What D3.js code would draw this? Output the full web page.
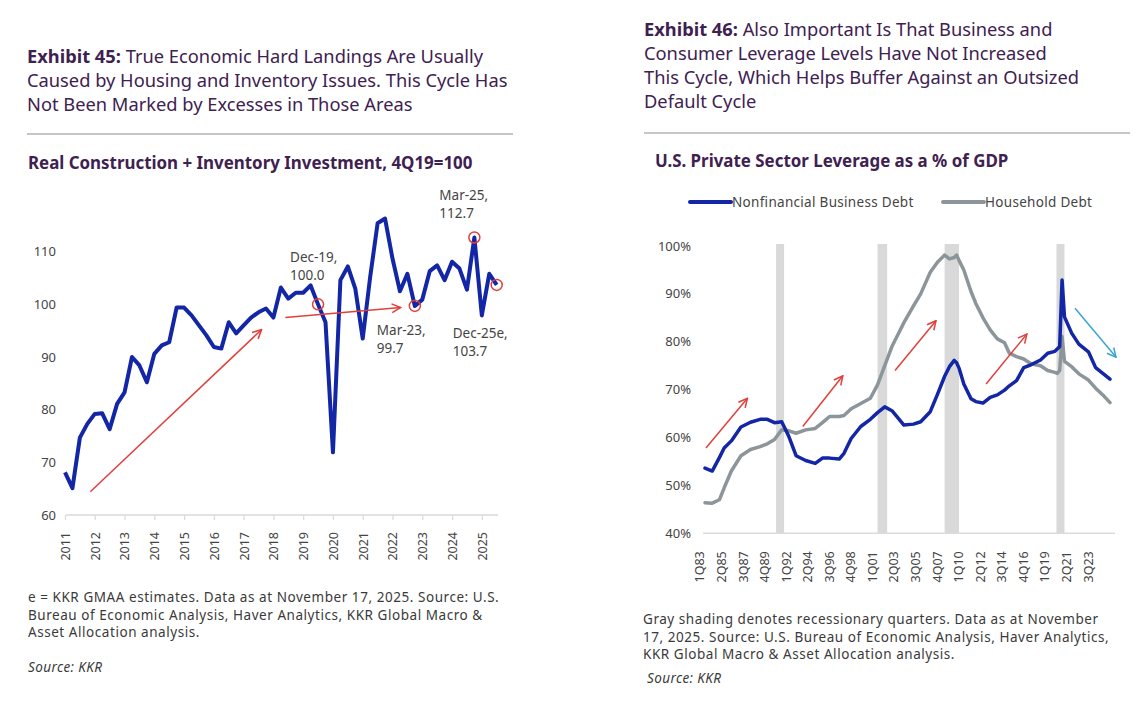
<!DOCTYPE html>
<html>
<head>
<meta charset="utf-8">
<script src="https://cdn.jsdelivr.net/npm/d3@7"></script>
<style>
  body { margin: 0; background: #fff; }
  svg { display: block; font-family: "Noto Sans", sans-serif; }
</style>
</head>
<body>
<div id="chart"></div>
<script>
// ---- Exhibit 45 data: real construction + inventory investment, 4Q19=100 (Jun-11 .. Dec-25e)
const constructionYears = d3.range(2011, 2026);
const constructionIndex = [68.1, 65.1, 74.7,
  77.3, 79.2, 79.3, 76.3,
  81.1, 83.3, 90.0, 88.4,
  85.2, 90.6, 92.2, 92.8,
  99.4, 99.4, 97.9, 96.0,
  94.1, 91.9, 91.6, 96.6,
  94.5, 96.0, 97.5, 98.5,
  99.2, 97.5, 103.2, 101.1,
  102.2, 102.2, 103.6, 100.0,
  96.6, 71.9, 104.6, 107.2,
  103.0, 93.5, 105.2, 115.4,
  116.3, 108.7, 102.5, 105.8,
  99.7, 100.9, 106.3, 107.4,
  104.6, 108.1, 106.8, 102.8,
  112.7, 97.9, 105.8, 103.7];
const constructionLabels = [];
constructionYears.forEach(y => ["Mar", "Jun", "Sep", "Dec"].forEach(m => constructionLabels.push(m + "-" + String(y).slice(2))));
constructionLabels.shift(); // series starts Jun-11
const constructionMarks = [
  { q: "Dec-19", text: ["Dec-19,", "100.0"] },
  { q: "Mar-23", text: ["Mar-23,", "99.7"] },
  { q: "Mar-25", text: ["Mar-25,", "112.7"] },
  { q: "Dec-25", text: ["Dec-25e,", "103.7"] }
];
const constructionTicks = [60, 70, 80, 90, 100, 110];

// ---- Exhibit 46 data: U.S. private sector leverage, % of GDP
const levQuarters = ["1Q83","4Q83","3Q84","1Q85","4Q85","4Q86","4Q87","4Q88","3Q89","2Q90",
  "1Q91","4Q91","3Q92","3Q93","3Q94","2Q95","1Q96","1Q97","3Q97","2Q98",
  "2Q99","2Q00","1Q01","4Q01","3Q02","1Q03","4Q03","4Q04","3Q05","3Q06",
  "2Q07","1Q08","3Q08","1Q09","2Q09","3Q09","1Q10","4Q10","2Q11","1Q12",
  "4Q12","3Q13","2Q14","4Q14","3Q15","2Q16","1Q17","1Q18","4Q18","3Q19",
  "4Q19","1Q20","2Q20","3Q20","2Q21","1Q22","1Q23","4Q23","3Q24","2Q25"];
const bizDebt = [53.6, 53.0, 55.8, 57.8, 59.3, 62.2, 63.2, 63.8, 63.8, 63.1,
  63.3, 60.2, 56.2, 55.2, 54.6, 55.7, 55.7, 55.5, 56.7, 59.8,
  62.3, 63.8, 65.2, 66.4, 65.6, 64.4, 62.6, 62.8, 63.3, 65.4,
  69.0, 72.8, 74.8, 76.1, 75.6, 74.5, 71.2, 68.1, 67.5, 67.2,
  68.4, 68.9, 69.9, 70.8, 71.9, 74.6, 75.2, 76.2, 77.6, 78.0,
  78.5, 79.0, 92.9, 85.2, 81.8, 79.5, 77.9, 74.6, 73.4, 72.2];
const hhDebt = [46.4, 46.3, 47.0, 49.5, 53.0, 56.2, 57.5, 58.1, 58.7, 59.6,
  61.6, 61.4, 60.9, 61.6, 61.9, 63.1, 64.4, 64.4, 64.6, 66.0,
  67.1, 68.2, 71.0, 75.0, 79.0, 81.0, 84.0, 87.5, 90.0, 94.5,
  96.6, 98.1, 97.3, 97.6, 98.1, 97.0, 95.0, 90.5, 88.0, 85.0,
  82.5, 80.6, 79.8, 77.6, 76.9, 76.4, 75.4, 75.0, 74.0, 73.6,
  73.4, 74.0, 81.1, 75.9, 74.8, 73.3, 72.0, 70.3, 68.9, 67.3];
const levTickLabels = ["1Q83","2Q85","3Q87","4Q89","1Q92","2Q94","3Q96","4Q98","1Q01","2Q03",
  "3Q05","4Q07","1Q10","2Q12","3Q14","4Q16","1Q19","2Q21","3Q23"];
const levYTicks = [40, 50, 60, 70, 80, 90, 100];
const recessions = [["3Q90", "1Q91"], ["1Q01", "4Q01"], ["1Q08", "2Q09"], ["1Q20", "2Q20"]];
const levSeries = [
  { name: "Nonfinancial Business Debt", values: bizDebt, color: "#1226a6" },
  { name: "Household Debt", values: hhDebt, color: "#8c959a" }
];

const W = 1147, H = 703;
const titleColor = "#3e2151", textColor = "#3a3a3a", red = "#e0403c";

const svg = d3.select("#chart").append("svg")
  .attr("width", W).attr("height", H);
svg.append("rect").attr("width", W).attr("height", H).attr("fill", "#fff");

const defs = svg.append("defs");
function arrowMarker(id, color) {
  defs.append("marker")
    .attr("id", id)
    .attr("viewBox", "0 0 10 10")
    .attr("refX", 9).attr("refY", 5)
    .attr("markerWidth", 11).attr("markerHeight", 11)
    .attr("markerUnits", "userSpaceOnUse")
    .attr("orient", "auto")
    .append("path")
    .attr("d", "M1,1 L9,5 L1,9")
    .attr("fill", "none")
    .attr("stroke", color)
    .attr("stroke-width", 1.4);
}
arrowMarker("arrowRed", red);
arrowMarker("arrowBlue", "#3aa5d2");

// headings shared by both panels
function heading(x, y0, bold, lines, sepY, sepX2, sub, subX, subY) {
  const t = svg.append("text").attr("fill", titleColor).style("font-size", "18.3px");
  lines.forEach((ln, i) => {
    const row = t.append("tspan").attr("x", x).attr("y", y0 + i * 24);
    if (i === 0) row.append("tspan").attr("font-weight", "bold").text(bold + " ");
    row.append("tspan").text(ln);
  });
  svg.append("line").attr("x1", x).attr("x2", sepX2).attr("y1", sepY).attr("y2", sepY)
    .attr("stroke", "#b3b3b3").attr("stroke-width", 1.5);
  svg.append("text").attr("x", subX).attr("y", subY)
    .attr("fill", titleColor).attr("font-weight", "bold").style("font-size", "16.9px")
    .text(sub);
}

function footnote(x, y0, lines, srcX, srcY) {
  const t = svg.append("text").attr("fill", textColor)
    .style("font-size", "13.5px").style("letter-spacing", "0.55px");
  lines.forEach((ln, i) => t.append("tspan").attr("x", x).attr("y", y0 + i * 17.5).text(ln));
  svg.append("text").attr("x", srcX).attr("y", srcY).attr("fill", textColor)
    .style("font-size", "13.5px").style("font-style", "italic").style("letter-spacing", "0.4px")
    .text("Source: KKR");
}

// ================= Exhibit 45 =================
heading(27, 63, "Exhibit 45:", [
  "True Economic Hard Landings Are Usually",
  "Caused by Housing and Inventory Issues. This Cycle Has",
  "Not Been Marked by Excesses in Those Areas"
], 134, 513, "Real Construction + Inventory Investment, 4Q19=100", 28, 169);

const x1 = d3.scaleLinear().domain([0, constructionIndex.length - 1]).range([65, 496.7]);
const y1 = d3.scaleLinear().domain([60, 110]).range([515, 251.7]);
const g1 = svg.append("g");

const xAxis1 = d3.axisBottom(x1)
  .tickValues(constructionYears.map(y => constructionLabels.indexOf("Jun-" + String(y).slice(2))))
  .tickFormat(i => "20" + constructionLabels[i].slice(4))
  .tickSize(5).tickSizeOuter(0);
const gx1 = g1.append("g").attr("transform", `translate(0,${y1(60)})`).call(xAxis1);
gx1.select(".domain").attr("stroke", "#d9d9d9").attr("stroke-width", 1.5)
  .attr("d", `M${x1(0) + 1},0H${x1(constructionIndex.length - 1) + 1.5}`);
gx1.selectAll(".tick line").attr("stroke", "#d9d9d9").attr("stroke-width", 1.2);
gx1.selectAll(".tick text")
  .attr("transform", "rotate(-90)")
  .attr("text-anchor", "end")
  .attr("x", -17).attr("y", 0).attr("dy", "0.35em")
  .attr("fill", "#444").style("font-size", "12.5px").style("font-family", "Noto Sans, sans-serif");

g1.selectAll(".ytick").data(constructionTicks).join("text")
  .attr("x", 56).attr("y", d => y1(d)).attr("dy", "0.35em")
  .attr("text-anchor", "end").attr("fill", "#444").style("font-size", "13px")
  .text(d => d);

const line1 = d3.line().x((d, i) => x1(i)).y(d => y1(d));
g1.append("path").datum(constructionIndex)
  .attr("d", line1).attr("fill", "none")
  .attr("stroke", "#1226a6").attr("stroke-width", 4).attr("stroke-linejoin", "round");

// trend arrows (data coordinates: quarter index, index value)
[[3.4, 64.4, 26.4, 95.2], [29.6, 97.5, 45.1, 99.4]].forEach(a => {
  g1.append("line")
    .attr("x1", x1(a[0])).attr("y1", y1(a[1])).attr("x2", x1(a[2])).attr("y2", y1(a[3]))
    .attr("stroke", red).attr("stroke-width", 1.5).attr("marker-end", "url(#arrowRed)");
});

const markOffsets = { "Dec-19": [-28, -42], "Mar-23": [-38, 29], "Mar-25": [-35, -37], "Dec-25": [-44, 53] };
constructionMarks.forEach(m => {
  const i = constructionLabels.indexOf(m.q);
  const cx = x1(i), cy = y1(constructionIndex[i]);
  g1.append("circle").attr("cx", cx).attr("cy", cy).attr("r", 5.5)
    .attr("fill", "none").attr("stroke", red).attr("stroke-width", 1.5);
  const off = markOffsets[m.q];
  const t = g1.append("text").attr("fill", "#444").style("font-size", "13.5px");
  m.text.forEach((s, k) => t.append("tspan").attr("x", cx + off[0]).attr("y", cy + off[1] + k * 18).text(s));
});

footnote(28, 602, [
  "e = KKR GMAA estimates. Data as at November 17, 2025. Source: U.S.",
  "Bureau of Economic Analysis, Haver Analytics, KKR Global Macro &",
  "Asset Allocation analysis."
], 28, 672);

// ================= Exhibit 46 =================
heading(644, 36, "Exhibit 46:", [
  "Also Important Is That Business and",
  "Consumer Leverage Levels Have Not Increased",
  "This Cycle, Which Helps Buffer Against an Outsized",
  "Default Cycle"
], 133, 1130, "U.S. Private Sector Leverage as a % of GDP", 655, 167);

const qIndex = s => {
  const yy = +s.slice(2);
  return ((yy >= 50 ? 1900 : 2000) + yy - 1983) * 4 + (+s[0] - 1);
};
const x2 = d3.scaleLinear().domain([0, qIndex("2Q25")]).range([705, 1110]);
const y2 = d3.scaleLinear().domain([40, 100]).range([533.3, 246]);
const g2 = svg.append("g");

// recession shading
recessions.forEach(r => {
  const xe = x2(qIndex(r[1]) + 1);
  const w = Math.max(8, xe - x2(qIndex(r[0])));
  g2.append("rect").attr("x", xe - w).attr("width", w)
    .attr("y", y2(100) - 2).attr("height", y2(40) - y2(100) + 2)
    .attr("fill", "#d9d9d9");
});

g2.append("line").attr("x1", 703).attr("x2", 1115).attr("y1", y2(40)).attr("y2", y2(40))
  .attr("stroke", "#dcdcdc").attr("stroke-width", 1.5);

g2.selectAll(".ylab").data(levYTicks).join("text")
  .attr("x", 691).attr("y", d => y2(d)).attr("dy", "0.35em")
  .attr("text-anchor", "end").attr("fill", "#444").style("font-size", "13px")
  .text(d => d + "%");

g2.selectAll(".xlab").data(levTickLabels).join("text")
  .attr("transform", d => `translate(${x2(qIndex(d)) - 5},${y2(40) + 18}) rotate(-90)`)
  .attr("text-anchor", "end").attr("dy", "0.35em")
  .attr("fill", "#444").style("font-size", "12.5px")
  .text(d => d);

const line2 = d3.line().x((d, i) => x2(qIndex(levQuarters[i]))).y(d => y2(d));
levSeries.slice().reverse().forEach(s => {
  g2.append("path").datum(s.values).attr("d", line2)
    .attr("fill", "none").attr("stroke", s.color).attr("stroke-width", 3.5)
    .attr("stroke-linejoin", "round").attr("stroke-linecap", "round");
});

// trend arrows (data coordinates: quarter index, % of GDP)
[[0.4, 57.8, 17.7, 68.2, "arrowRed", red],
 [40.8, 62.3, 57.5, 72.9, "arrowRed", red],
 [79.3, 74.0, 96.4, 84.4, "arrowRed", red],
 [117.3, 71.2, 134.3, 81.6, "arrowRed", red],
 [154.4, 87.0, 171.5, 76.8, "arrowBlue", "#3aa5d2"]].forEach(a => {
  g2.append("line")
    .attr("x1", x2(a[0])).attr("y1", y2(a[1])).attr("x2", x2(a[2])).attr("y2", y2(a[3]))
    .attr("stroke", a[5]).attr("stroke-width", 1.5).attr("marker-end", `url(#${a[4]})`);
});

// legend
const legX = [690, 943];
levSeries.forEach((s, i) => {
  const lg = g2.append("g").attr("transform", `translate(${legX[i]},202)`);
  lg.append("line").attr("x1", 0).attr("x2", 41).attr("stroke", s.color)
    .attr("stroke-width", 4).attr("stroke-linecap", "round");
  lg.append("text").attr("x", 42).attr("dy", "0.35em").attr("fill", "#444")
    .style("font-size", "13.5px").style("letter-spacing", "0.3px").text(s.name);
});

footnote(643, 624, [
  "Gray shading denotes recessionary quarters. Data as at November",
  "17, 2025. Source: U.S. Bureau of Economic Analysis, Haver Analytics,",
  "KKR Global Macro & Asset Allocation analysis."
], 647, 683);
</script>
</body>
</html>
